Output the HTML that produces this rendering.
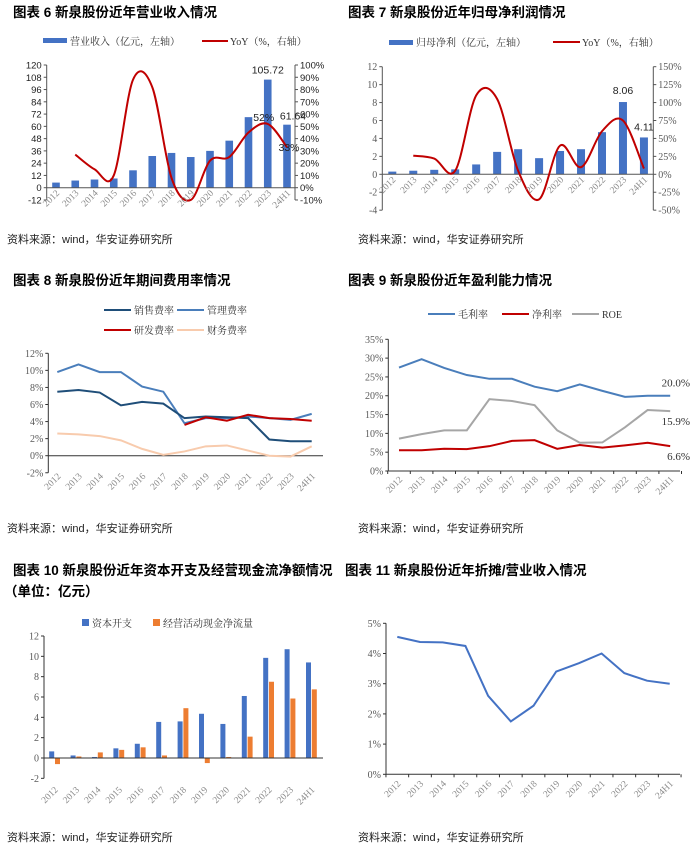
<!DOCTYPE html>
<html><head><meta charset="utf-8">
<style>
html,body{margin:0;padding:0;background:#fff;}
svg{display:block;}
.t{font-family:"Liberation Sans","Noto Sans CJK SC",sans-serif;font-weight:bold;font-size:13.5px;fill:#000;}
.src{font-family:"Liberation Sans","Noto Sans CJK SC",sans-serif;font-size:11px;fill:#222;}
.lg{font-family:"Liberation Serif","Noto Serif CJK SC",serif;font-size:10px;fill:#333;}
.tk{font-family:"Liberation Serif",serif;font-size:10px;fill:#595959;}
.tk6{font-family:"Liberation Sans",sans-serif;font-size:9.5px;fill:#222;}
.xl{font-family:"Liberation Serif",serif;font-size:9.5px;fill:#8c8c8c;}
.lab{font-family:"Liberation Sans",sans-serif;font-size:10.5px;fill:#222;}
.lab9{font-family:"Liberation Serif",serif;font-size:11px;fill:#333;}
</style></head>
<body>
<svg id="s" width="700" height="849" viewBox="0 0 700 849" xmlns="http://www.w3.org/2000/svg">
<text class="t" x="13" y="17">图表 6 新泉股份近年营业收入情况</text>
<text class="t" x="348" y="17">图表 7 新泉股份近年归母净利润情况</text>
<text class="t" x="13" y="285">图表 8 新泉股份近年期间费用率情况</text>
<text class="t" x="348" y="285">图表 9 新泉股份近年盈利能力情况</text>
<text class="t" x="13" y="575">图表 10 新泉股份近年资本开支及经营现金流净额情况</text>
<text class="t" x="4" y="596">（单位：亿元）</text>
<text class="t" x="345" y="575">图表 11 新泉股份近年折摊/营业收入情况</text>
<text class="src" x="7" y="243">资料来源：wind，华安证券研究所</text>
<text class="src" x="358" y="243">资料来源：wind，华安证券研究所</text>
<text class="src" x="7" y="532">资料来源：wind，华安证券研究所</text>
<text class="src" x="358" y="532">资料来源：wind，华安证券研究所</text>
<text class="src" x="7" y="841">资料来源：wind，华安证券研究所</text>
<text class="src" x="358" y="841">资料来源：wind，华安证券研究所</text>
</svg>
<script>
const years = ["2012","2013","2014","2015","2016","2017","2018","2019","2020","2021","2022","2023","24H1"];
// chart 6
const rev = [5,7,8,9,17,31,34,30,36,46,69,105.72,61.64];
const revYoy = [null,27,15,10,88,82,8,-10,22,25,45,52,33];
const yTicks6 = [-12,0,12,24,36,48,60,72,84,96,108,120];
const yTicksR6 = [-10,0,10,20,30,40,50,60,70,80,90,100];
// chart 7
const np = [0.3,0.4,0.5,0.55,1.1,2.5,2.8,1.8,2.6,2.8,4.7,8.06,4.11];
const npYoy = [null,26,22,5,110,105,5,-35,40,10,60,75,8];
const yTicks7 = [-4,-2,0,2,4,6,8,10,12];
const yTicksR7 = [-50,-25,0,25,50,75,100,125,150];
// chart 8
const sellRate = [7.5,7.7,7.4,5.9,6.3,6.1,4.4,4.6,4.5,4.4,1.9,1.7,1.7];
const adminRate = [9.8,10.7,9.8,9.8,8.1,7.5,3.8,4.4,4.4,4.6,4.4,4.2,4.9];
const rdRate = [null,null,null,null,null,null,3.6,4.5,4.1,4.8,4.4,4.3,4.1];
const finRate = [2.6,2.5,2.3,1.8,0.8,0.1,0.5,1.1,1.2,0.6,0,-0.1,1.1];
const yTicks8 = [-2,0,2,4,6,8,10,12];
// chart 9
const grossMargin = [27.5,29.7,27.4,25.5,24.5,24.5,22.4,21.2,23,21.3,19.7,20,20];
const netMargin = [5.5,5.5,5.9,5.8,6.6,8,8.2,5.9,6.9,6.2,6.8,7.5,6.6];
const roe = [8.6,9.8,10.8,10.8,19.1,18.6,17.5,10.8,7.5,7.6,11.6,16.2,15.9];
const yTicks9 = [0,5,10,15,20,25,30,35];
// chart 10
const capex = [0.65,0.25,0.1,0.95,1.4,3.55,3.6,4.35,3.35,6.1,9.85,10.7,9.4];
const opCash = [-0.6,0.15,0.55,0.8,1.05,0.25,4.9,-0.5,0.1,2.1,7.5,5.85,6.75];
const yTicks10 = [-2,0,2,4,6,8,10,12];
// chart 11
const daRatio = [4.55,4.38,4.37,4.25,2.6,1.75,2.27,3.4,3.68,4.0,3.35,3.1,3.0];
const yTicks11 = [0,1,2,3,4,5];

const S = document.getElementById('s');
const NS = 'http://www.w3.org/2000/svg';
function mk(tag, attrs, name, parent){
  const e = document.createElementNS(NS, tag);
  for (const k in attrs) e.setAttribute(k, attrs[k]);
  
  
  (parent||S).appendChild(e);
  return e;
}
function txt(x,y,s,cls,name,anchor,extra){
  const e = mk('text', Object.assign({x:x,y:y,class:cls,'text-anchor':anchor||'start'}, extra||{}), name);
  e.textContent = s;
  return e;
}
function lin(d0,d1,r0,r1){ return v => r0 + (v-d0)/(d1-d0)*(r1-r0); }
function catmull(pts){
  let d = 'M'+pts[0][0]+','+pts[0][1];
  for (let i=0;i<pts.length-1;i++){
    const p0=pts[i-1]||pts[i], p1=pts[i], p2=pts[i+1], p3=pts[i+2]||p2;
    const c1=[p1[0]+(p2[0]-p0[0])/6, p1[1]+(p2[1]-p0[1])/6];
    const c2=[p2[0]-(p3[0]-p1[0])/6, p2[1]-(p3[1]-p1[1])/6];
    d+=' C'+c1[0]+','+c1[1]+' '+c2[0]+','+c2[1]+' '+p2[0]+','+p2[1];
  }
  return d;
}
function polyPath(xs, vals, y){
  let d=''; let started=false;
  vals.forEach((v,i)=>{ if(v===null) return; d+=(started?' L':'M')+xs(i)+','+y(v); started=true; });
  return d;
}
function yAxis(x, y, ticks, fmt, cls, name, side, axColor){
  const lo=y(ticks[0]), hi=y(ticks[ticks.length-1]);
  mk('line',{x1:x,y1:lo,x2:x,y2:hi,stroke:axColor||'#000','stroke-width':1},name+'-line');
  ticks.forEach(t=>{
    const yy=y(t);
    const dx = side==='r'?3:-3;
    mk('line',{x1:x,y1:yy,x2:x+dx,y2:yy,stroke:axColor||'#000','stroke-width':1},name+'-tick');
    txt(side==='r'?x+5:x-5, yy+3.5, fmt(t), cls, name+'-label', side==='r'?'start':'end');
  });
}
function xLabels(xs, yy, cls, name){
  years.forEach((s,i)=>{
    const x=xs(i)+4, y=yy;
    txt(x,y,s,cls,name,'end',{transform:'rotate(-45 '+x+' '+y+')'});
  });
}
function xAxisLine(x0,x1,yy,xs,ticks,color,name){
  mk('line',{x1:x0,y1:yy,x2:x1,y2:yy,stroke:color,'stroke-width':1},name);
  if(ticks){ for(let i=0;i<=years.length;i++){ const x=xs(i-0.5); mk('line',{x1:x,y1:yy,x2:x,y2:yy+3,stroke:color,'stroke-width':1},name+'-tick'); } }
}

/* ---------- chart 6 ---------- */
(function(){
  const y=lin(0,120,187.7,65), yr=lin(0,100,187.7,65), xs=i=>56+i*19.25;
  yAxis(46.7,y,yTicks6,t=>String(t),'tk6','chart6-y-axis','l','#555');
  yAxis(295,yr,yTicksR6,t=>t+'%','tk6','chart6-y2-axis','r','#555');
  rev.forEach((v,i)=>{
    mk('rect',{x:xs(i)-3.8,y:y(v),width:7.6,height:y(0)-y(v),fill:'#4472c4'},'chart6-revenue-bar');
  });
  mk('line',{x1:46.7,y1:y(0),x2:295,y2:y(0),stroke:'#555','stroke-width':1},'chart6-zero-line');
  const pts=[]; revYoy.forEach((v,i)=>{ if(v!==null) pts.push([xs(i),yr(v)]); });
  mk('path',{d:catmull(pts),fill:'none',stroke:'#c00000','stroke-width':2},'chart6-yoy-line');
  xLabels(xs,y(0)+6,'xl','chart6-x-label');
  txt(xs(11),y(rev[11])-6,String(rev[11]),'lab','chart6-label-2023','middle');
  txt(xs(12)+6,y(rev[12])-5,String(rev[12]),'lab','chart6-label-24h1','middle');
  txt(xs(11)-4,yr(revYoy[11])-3,revYoy[11]+'%','lab','chart6-yoy-label-2023','middle');
  txt(xs(12)+2,yr(revYoy[12])+4,revYoy[12]+'%','lab','chart6-yoy-label-24h1','middle');
  mk('rect',{x:43,y:38,width:24,height:5,fill:'#4472c4'},'chart6-legend-bar-swatch');
  txt(70,45,'营业收入（亿元，左轴）','lg','chart6-legend-revenue');
  mk('line',{x1:202,y1:41,x2:228,y2:41,stroke:'#c00000','stroke-width':2},'chart6-legend-yoy-swatch');
  txt(230,45,'YoY（%，右轴）','lg','chart6-legend-yoy');
})();

/* ---------- chart 7 ---------- */
(function(){
  const y=lin(0,12,174.3,66.7), yr=lin(0,150,174.3,66.7), xs=i=>392.3+i*20.97;
  yAxis(382.3,y,yTicks7,t=>String(t),'tk','chart7-y-axis','l','#555');
  yAxis(653.3,yr,yTicksR7,t=>t+'%','tk','chart7-y2-axis','r','#555');
  np.forEach((v,i)=>{
    mk('rect',{x:xs(i)-4,y:y(v),width:8,height:y(0)-y(v),fill:'#4472c4'},'chart7-profit-bar');
  });
  mk('line',{x1:382.3,y1:y(0),x2:653.3,y2:y(0),stroke:'#555','stroke-width':1},'chart7-zero-line');
  const pts=[]; npYoy.forEach((v,i)=>{ if(v!==null) pts.push([xs(i),yr(v)]); });
  mk('path',{d:catmull(pts),fill:'none',stroke:'#c00000','stroke-width':2},'chart7-yoy-line');
  xLabels(xs,y(0)+6,'xl','chart7-x-label');
  txt(xs(11),y(np[11])-8,String(np[11]),'lab','chart7-label-2023','middle');
  txt(xs(12),y(np[12])-7,String(np[12]),'lab','chart7-label-24h1','middle');
  mk('rect',{x:389,y:40,width:24,height:5,fill:'#4472c4'},'chart7-legend-bar-swatch');
  txt(416,46,'归母净利（亿元，左轴）','lg','chart7-legend-profit');
  mk('line',{x1:553,y1:42,x2:580,y2:42,stroke:'#c00000','stroke-width':2},'chart7-legend-yoy-swatch');
  txt(582,46,'YoY（%，右轴）','lg','chart7-legend-yoy');
})();

/* ---------- chart 8 ---------- */
(function(){
  const y=lin(0,12,455.7,353.3), xs=i=>57.3+i*21.2;
  yAxis(48.3,y,yTicks8,t=>t+'%','tk','chart8-y-axis','l','#333');
  xAxisLine(48.3,323,y(0),xs,false,'#333','chart8-x-axis');
  xLabels(xs,y(-2)+4,'xl','chart8-x-label');
  mk('path',{d:polyPath(xs,finRate,y),fill:'none',stroke:'#f8cbad','stroke-width':2},'chart8-finance-line');
  mk('path',{d:polyPath(xs,adminRate,y),fill:'none',stroke:'#4a7ebb','stroke-width':2},'chart8-admin-line');
  mk('path',{d:polyPath(xs,sellRate,y),fill:'none',stroke:'#1f4e79','stroke-width':2},'chart8-selling-line');
  mk('path',{d:polyPath(xs,rdRate,y),fill:'none',stroke:'#c00000','stroke-width':2},'chart8-rd-line');
  const L=[[104,310,'#1f4e79','销售费率','chart8-legend-selling'],[177,310,'#4a7ebb','管理费率','chart8-legend-admin'],[104,330,'#c00000','研发费率','chart8-legend-rd'],[177,330,'#f8cbad','财务费率','chart8-legend-finance']];
  L.forEach(l=>{
    mk('line',{x1:l[0],y1:l[1],x2:l[0]+27,y2:l[1],stroke:l[2],'stroke-width':2},l[4]+'-swatch');
    txt(l[0]+30,l[1]+4,l[3],'lg',l[4]);
  });
})();

/* ---------- chart 9 ---------- */
(function(){
  const y=lin(0,35,471,339.3), xs=i=>399+i*22.6;
  yAxis(388.3,y,yTicks9,t=>t+'%','tk','chart9-y-axis','l','#333');
  xAxisLine(388.3,680,y(0),xs,true,'#333','chart9-x-axis');
  xLabels(xs,y(0)+9,'xl','chart9-x-label');
  mk('path',{d:polyPath(xs,roe,y),fill:'none',stroke:'#a6a6a6','stroke-width':2},'chart9-roe-line');
  mk('path',{d:polyPath(xs,grossMargin,y),fill:'none',stroke:'#4a7ebb','stroke-width':2},'chart9-gross-margin-line');
  mk('path',{d:polyPath(xs,netMargin,y),fill:'none',stroke:'#c00000','stroke-width':2},'chart9-net-margin-line');
  txt(690,y(grossMargin[12])-9,grossMargin[12].toFixed(1)+'%','lab9','chart9-label-gross','end');
  txt(690,y(roe[12])+14,roe[12].toFixed(1)+'%','lab9','chart9-label-roe','end');
  txt(690,y(netMargin[12])+14,netMargin[12].toFixed(1)+'%','lab9','chart9-label-net','end');
  const L=[[428,'#4a7ebb','毛利率','chart9-legend-gross'],[502,'#c00000','净利率','chart9-legend-net'],[572,'#a6a6a6','ROE','chart9-legend-roe']];
  L.forEach(l=>{
    mk('line',{x1:l[0],y1:314,x2:l[0]+27,y2:314,stroke:l[1],'stroke-width':2},l[3]+'-swatch');
    txt(l[0]+30,318,l[2],'lg',l[3]);
  });
})();

/* ---------- chart 10 ---------- */
(function(){
  const y=lin(0,12,758,636), xs=i=>54.5+i*21.4;
  yAxis(44,y,yTicks10,t=>String(t),'tk','chart10-y-axis','l','#333');
  capex.forEach((v,i)=>{
    const top=Math.min(y(v),y(0)), h=Math.abs(y(0)-y(v));
    mk('rect',{x:xs(i)-5.3,y:top,width:5,height:h,fill:'#4472c4'},'chart10-capex-bar');
  });
  opCash.forEach((v,i)=>{
    const top=Math.min(y(v),y(0)), h=Math.abs(y(0)-y(v));
    mk('rect',{x:xs(i)+0.5,y:top,width:5,height:h,fill:'#ed7d31'},'chart10-opcash-bar');
  });
  xAxisLine(44,323,y(0),xs,false,'#333','chart10-x-axis');
  xLabels(xs,y(-2)+12,'xl','chart10-x-label');
  mk('rect',{x:82,y:619,width:7,height:7,fill:'#4472c4'},'chart10-legend-capex-swatch');
  txt(92,627,'资本开支','lg','chart10-legend-capex');
  mk('rect',{x:153,y:619,width:7,height:7,fill:'#ed7d31'},'chart10-legend-opcash-swatch');
  txt(163,627,'经营活动现金净流量','lg','chart10-legend-opcash');
})();

/* ---------- chart 11 ---------- */
(function(){
  const y=lin(0,5,774.3,623.3), xs=i=>397.3+i*22.7;
  yAxis(386,y,yTicks11,t=>t+'%','tk','chart11-y-axis','l','#333');
  xAxisLine(386,680,y(0),xs,true,'#333','chart11-x-axis');
  xLabels(xs,y(0)+10,'xl','chart11-x-label');
  mk('path',{d:polyPath(xs,daRatio,y),fill:'none',stroke:'#4472c4','stroke-width':2},'chart11-da-ratio-line');
})();
</script>
</body></html>
